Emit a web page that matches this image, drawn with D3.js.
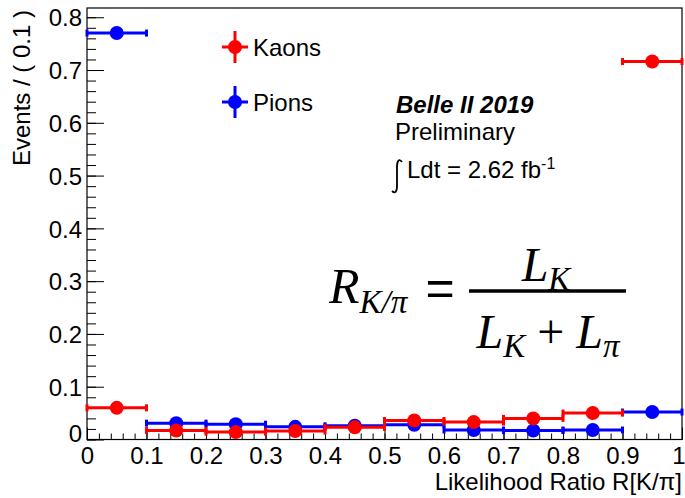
<!DOCTYPE html>
<html>
<head>
<meta charset="utf-8">
<script src="https://cdn.jsdelivr.net/npm/d3@7"></script>
<style>
  body { margin: 0; background: #fff; }
  text { font-family: "Liberation Sans", Arial, sans-serif; fill: #000; }
  .math { font-family: "Liberation Serif", "Times New Roman", serif; font-style: italic; }
</style>
</head>
<body>
<div id="chart"></div>
<script>
// bin centres of the likelihood ratio histogram (bin width 0.1)
const binCenters = [0.05, 0.15, 0.25, 0.35, 0.45, 0.55, 0.65, 0.75, 0.85, 0.95];
const binWidth = 0.1;
const kaons = [0.060, 0.017, 0.014, 0.016, 0.023, 0.036, 0.033, 0.040, 0.050, 0.716];
const pions = [0.770, 0.031, 0.029, 0.024, 0.026, 0.028, 0.018, 0.017, 0.018, 0.052];
const xTicks = [0, 0.1, 0.2, 0.3, 0.4, 0.5, 0.6, 0.7, 0.8, 0.9, 1];
const yTicks = [0, 0.1, 0.2, 0.3, 0.4, 0.5, 0.6, 0.7, 0.8];

const width = 685, height = 498;
const margin = {top: 8, right: 3, bottom: 58.5, left: 87};
const fontSize = 24;

const svg = d3.select('#chart').append('svg')
  .attr('width', width).attr('height', height);

const xScale = d3.scaleLinear().domain([0, 1]).range([margin.left, width - margin.right]);
const yScale = d3.scaleLinear().domain([0, 0.8175]).range([height - margin.bottom, margin.top]);
const innerW = width - margin.left - margin.right;
const innerH = height - margin.top - margin.bottom;

// minor ticks
const xMinor = d3.range(0, 1.0001, 0.02);
const yMinor = d3.range(0, 0.8175, 0.02);

svg.append('g').attr('transform', `translate(0,${yScale(0)})`)
  .call(d3.axisBottom(xScale).tickValues(xMinor).tickSize(-6).tickFormat(''));
const xAxisG = svg.append('g').attr('transform', `translate(0,${yScale(0)})`)
  .call(d3.axisBottom(xScale).tickValues(xTicks).tickSize(-12).tickPadding(7)
    .tickFormat(d => d === 0 || d === 1 ? d3.format('d')(d) : d3.format('.1f')(d)));
svg.append('g').attr('transform', `translate(${xScale(0)},0)`)
  .call(d3.axisLeft(yScale).tickValues(yMinor).tickSize(-9).tickFormat(''));
const yAxisG = svg.append('g').attr('transform', `translate(${xScale(0)},0)`)
  .call(d3.axisLeft(yScale).tickValues(yTicks).tickSize(-17).tickPadding(22)
    .tickFormat(d => d === 0 ? '0' : d3.format('.1f')(d)));

svg.selectAll('.domain').remove();
svg.selectAll('.tick line').attr('stroke', '#000').attr('stroke-width', 1);
xAxisG.selectAll('.tick text').attr('font-size', fontSize).attr('font-family', '"Liberation Sans", Arial, sans-serif');
xAxisG.selectAll('.tick').filter(d => d === 1).select('text').attr('text-anchor', 'end').attr('x', 3);
yAxisG.selectAll('.tick text').attr('font-size', fontSize).attr('font-family', '"Liberation Sans", Arial, sans-serif')
  .attr('x', -5).attr('dy', '0.36em');
yAxisG.selectAll('.tick').filter(d => d === 0).select('text').attr('dy', '0.1em');

// frame
svg.append('rect')
  .attr('x', margin.left).attr('y', margin.top)
  .attr('width', innerW).attr('height', innerH)
  .attr('fill', 'none').attr('stroke', '#000').attr('stroke-width', 1.2);

// axis titles
svg.append('text')
  .attr('x', xScale(1)).attr('y', 490)
  .attr('text-anchor', 'end').attr('font-size', fontSize)
  .text('Likelihood Ratio R[K/π]');
svg.append('text')
  .attr('transform', `translate(30,${margin.top + 2}) rotate(-90)`)
  .attr('text-anchor', 'end').attr('font-size', fontSize)
  .text('Events / ( 0.1 )');

// data points with horizontal bin-width error bars
function drawSeries(values, color) {
  const g = svg.append('g');
  const pts = values.map((v, i) => ({x: binCenters[i], y: v}));
  g.selectAll('line.err').data(pts).enter().append('line')
    .attr('x1', d => xScale(d.x - binWidth / 2)).attr('x2', d => xScale(d.x + binWidth / 2))
    .attr('y1', d => yScale(d.y)).attr('y2', d => yScale(d.y))
    .attr('stroke', color).attr('stroke-width', 3);
  const caps = pts.flatMap(d => [d.x - binWidth / 2, d.x + binWidth / 2].map(e => ({x: e, y: d.y})));
  g.selectAll('rect.cap').data(caps).enter().append('rect')
    .attr('x', d => xScale(d.x) - 1.5).attr('y', d => yScale(d.y) - 3.5)
    .attr('width', 3).attr('height', 7)
    .attr('fill', color);
  g.selectAll('circle').data(pts).enter().append('circle')
    .attr('cx', d => xScale(d.x)).attr('cy', d => yScale(d.y))
    .attr('r', 7).attr('fill', color);
}
drawSeries(pions, '#0000ff');
drawSeries(kaons, '#ff0000');

// legend
const legendItems = [{name: 'Kaons', color: '#ff0000', y: 47}, {name: 'Pions', color: '#0000ff', y: 102}];
const leg = svg.append('g');
legendItems.forEach(item => {
  leg.append('line').attr('x1', 222).attr('x2', 248).attr('y1', item.y).attr('y2', item.y)
    .attr('stroke', item.color).attr('stroke-width', 3);
  leg.append('line').attr('x1', 235).attr('x2', 235).attr('y1', item.y - 16).attr('y2', item.y + 16)
    .attr('stroke', item.color).attr('stroke-width', 3);
  leg.append('circle').attr('cx', 235).attr('cy', item.y).attr('r', 7).attr('fill', item.color);
  leg.append('text').attr('x', 253).attr('y', item.y + 9).attr('font-size', fontSize).text(item.name);
});

// Belle II label
svg.append('text').attr('x', 396).attr('y', 113).attr('font-size', fontSize)
  .attr('font-weight', 'bold').attr('font-style', 'italic').text('Belle II 2019');
svg.append('text').attr('x', 395).attr('y', 140).attr('font-size', fontSize).text('Preliminary');
// integral sign
svg.append('path')
  .attr('d', 'M402,162 C399,158 397,161 397,167 L397,186 C397,192 395,194 392,191')
  .attr('fill', 'none').attr('stroke', '#000').attr('stroke-width', 1.8);
const lum = svg.append('text').attr('x', 407).attr('y', 178).attr('font-size', fontSize);
lum.append('tspan').text('Ldt = 2.62 fb');
lum.append('tspan').attr('dy', -9).attr('font-size', 16).text('-1');

// formula R_{K/pi} = L_K / (L_K + L_pi)
const f = svg.append('g');
const lhs = f.append('text').attr('class', 'math').attr('x', 329).attr('y', 303).attr('font-size', 50);
lhs.append('tspan').text('R');
lhs.append('tspan').attr('dy', 10).attr('font-size', 33).text('K/π');
f.append('text').attr('x', 440).attr('y', 305).attr('font-size', 50)
  .attr('text-anchor', 'middle').attr('font-family', '"Liberation Serif", serif').text('=');
f.append('line').attr('x1', 469).attr('x2', 626).attr('y1', 291).attr('y2', 291)
  .attr('stroke', '#000').attr('stroke-width', 3.5);
const num = f.append('text').attr('class', 'math').attr('x', 546).attr('y', 281)
  .attr('font-size', 48).attr('text-anchor', 'middle');
num.append('tspan').text('L');
num.append('tspan').attr('dy', 9).attr('font-size', 33).text('K');
const den = f.append('text').attr('class', 'math').attr('x', 548).attr('y', 348)
  .attr('font-size', 48).attr('text-anchor', 'middle');
den.append('tspan').text('L');
den.append('tspan').attr('dy', 9).attr('font-size', 33).text('K');
den.append('tspan').attr('dy', -9).attr('font-style', 'normal').text(' + ');
den.append('tspan').text('L');
den.append('tspan').attr('dy', 9).attr('font-size', 33).text('π');
</script>
</body>
</html>
